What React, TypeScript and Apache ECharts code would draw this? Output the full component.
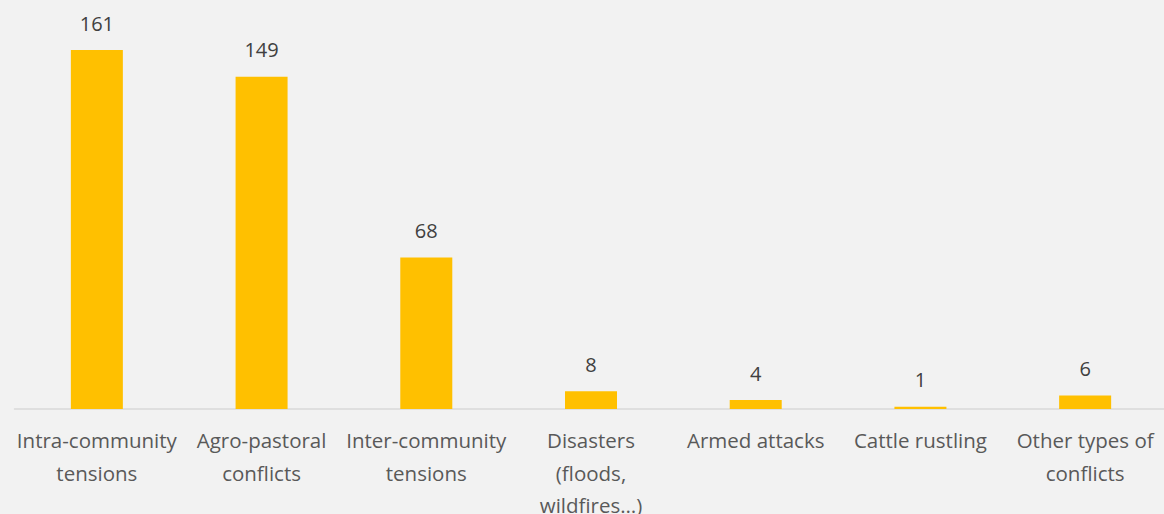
import React, { useEffect, useRef } from "react";
import * as echarts from "echarts";

const categories = [
  "Intra-community\ntensions",
  "Agro-pastoral\nconflicts",
  "Inter-community\ntensions",
  "Disasters\n(floods,\nwildfires…)",
  "Armed attacks",
  "Cattle rustling",
  "Other types of\nconflicts",
];
const values = [161, 149, 68, 8, 4, 1, 6];

export default function App() {
  const ref = useRef<HTMLDivElement>(null);
  useEffect(() => {
    if (!ref.current) return;
    const chart = echarts.init(ref.current, null, { renderer: "svg" });
    chart.setOption({
      animation: false,
      backgroundColor: "#F2F2F2",
      grid: {
        left: 14.5,
        width: 1153,
        top: 30,
        bottom: 105,
        containLabel: false,
        outerBoundsMode: "none",
      },
      xAxis: {
        type: "category",
        data: categories,
        axisLine: { show: true, lineStyle: { color: "#D9D9D9", width: 1.5 } },
        axisTick: { show: false },
        axisLabel: {
          interval: 0,
          margin: 15,
          color: "#595959",
          fontFamily: "Open Sans",
          fontSize: 20.5,
          lineHeight: 32.5,
        },
      },
      yAxis: {
        type: "value",
        min: 0,
        max: 170,
        show: false,
        splitLine: { show: false },
      },
      series: [
        {
          type: "bar",
          data: values,
          barWidth: 52,
          itemStyle: { color: "#FFC000" },
          label: {
            show: true,
            position: "top",
            distance: 17,
            color: "#404040",
            fontFamily: "Open Sans",
            fontSize: 20,
          },
        },
      ],
    });
    return () => chart.dispose();
  }, []);
  return (
    <div
      ref={ref}
      style={{ position: "fixed", left: 0, top: 0, width: 1164, height: 514 }}
    />
  );
}
